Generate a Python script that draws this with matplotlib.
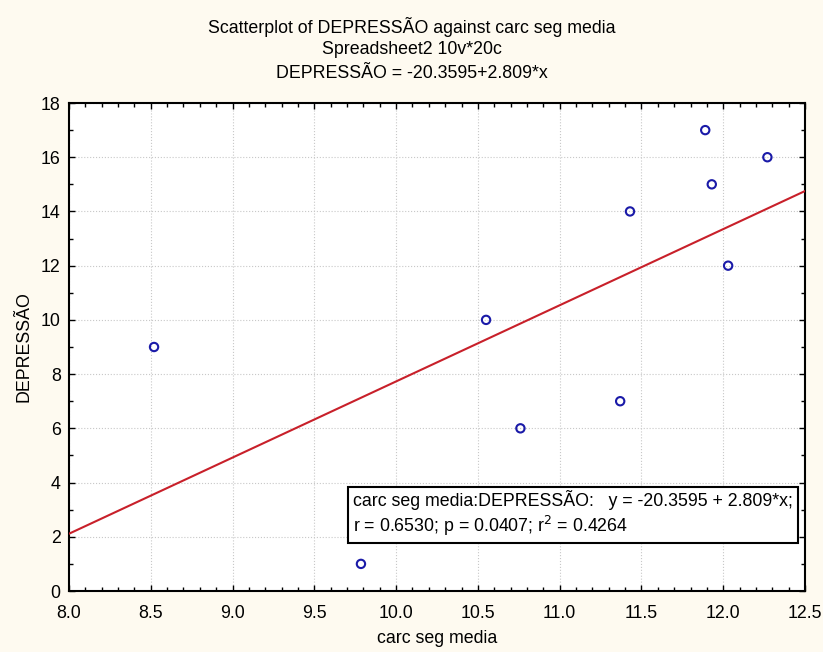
import matplotlib
matplotlib.use("Agg")
import matplotlib.pyplot as plt
import numpy as np
from matplotlib.ticker import MultipleLocator

plt.rcParams['font.family'] = ['Liberation Sans', 'DejaVu Sans']

carc_seg_media = [8.52, 9.785, 10.55, 10.76, 11.37, 11.43, 11.89, 11.93, 12.03, 12.27]
depressao = [9, 1, 10, 6, 7, 14, 17, 15, 12, 16]
intercept = -20.3595
slope = 2.809

fig = plt.figure(figsize=(8.23, 6.52), dpi=100, facecolor='#FEFAF0')
ax = fig.add_axes([69/823, 61/652, 736/823, 488/652])
ax.set_facecolor('white')

xl = np.array([8.0, 12.5])
ax.plot(xl, intercept + slope * xl, color='#C8202A', lw=1.5, zorder=3)
ax.scatter(carc_seg_media, depressao, s=36, facecolors='none', edgecolors='#1A1AA8',
           linewidths=1.5, zorder=4)

ax.set_xlim(8.0, 12.5)
ax.set_ylim(0, 18)
ax.xaxis.set_major_locator(MultipleLocator(0.5))
ax.xaxis.set_minor_locator(MultipleLocator(0.1))
ax.yaxis.set_major_locator(MultipleLocator(2))
ax.yaxis.set_minor_locator(MultipleLocator(1))
ax.xaxis.set_major_formatter(matplotlib.ticker.FormatStrFormatter('%.1f'))
ax.tick_params(which='both', direction='in', top=True, right=True, labelsize=12.8, color='black')
ax.tick_params(which='major', length=4, width=1)
ax.tick_params(which='minor', length=3, width=1)
ax.tick_params(axis='x', pad=10)
ax.tick_params(axis='y', pad=6)
for sp in ax.spines.values():
    sp.set_linewidth(1.5)
ax.grid(True, which='major', color='#C8C8C8', linestyle=':', linewidth=0.8, zorder=0)

ax.set_xlabel('carc seg media', fontsize=12.8, labelpad=6)
ax.set_ylabel('DEPRESSÃO', fontsize=12.8, labelpad=6)

fig.text(0.5, 1 - 27/652, 'Scatterplot of DEPRESSÃO against carc seg media', ha='center', va='center', fontsize=12.8)
fig.text(0.5, 1 - 50/652, 'Spreadsheet2 10v*20c', ha='center', va='center', fontsize=12.8)
fig.text(0.5, 1 - 73/652, 'DEPRESSÃO = -20.3595+2.809*x', ha='center', va='center', fontsize=12.8)

ax.text(0.386, 0.207,
        'carc seg media:DEPRESSÃO:   y = -20.3595 + 2.809*x;\nr = 0.6530; p = 0.0407; r$^2$ = 0.4264',
        transform=ax.transAxes, fontsize=12.8, va='top', ha='left', linespacing=1.2,
        bbox=dict(boxstyle='square,pad=0.3', facecolor='white', edgecolor='black', linewidth=1.5),
        zorder=5)

fig.savefig('out.png', dpi=100, facecolor=fig.get_facecolor())
